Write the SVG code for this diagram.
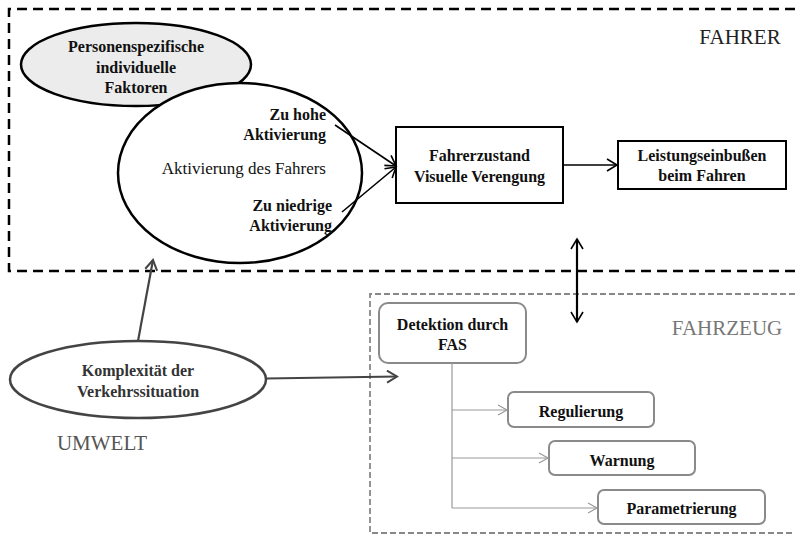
<svg xmlns="http://www.w3.org/2000/svg" width="795" height="536" viewBox="0 0 795 536" font-family="'Liberation Serif', 'DejaVu Serif', serif">
<style>
text{text-anchor:middle}
.b{font-weight:bold;font-size:16px;fill:#111}
.n{font-size:17px;fill:#111}
.lbl{font-size:21px}
.box{fill:#fff;stroke:#000;stroke-width:2}
.rbox{fill:#fff;stroke:#8a8a8a;stroke-width:2}
.thin{fill:none;stroke:#999;stroke-width:1.2}
</style>
<defs>
<marker id="ab" markerUnits="userSpaceOnUse" markerWidth="16" markerHeight="16" refX="12" refY="8" orient="auto-start-reverse" viewBox="0 0 16 16">
<path d="M2,2 L12,8 L2,14" fill="none" stroke="#000" stroke-width="1.6"/>
</marker>
<marker id="ad" markerUnits="userSpaceOnUse" markerWidth="16" markerHeight="16" refX="12" refY="8" orient="auto-start-reverse" viewBox="0 0 16 16">
<path d="M2,2 L12,8 L2,14" fill="none" stroke="#444" stroke-width="2"/>
</marker>
<marker id="ag" markerUnits="userSpaceOnUse" markerWidth="14" markerHeight="14" refX="11" refY="7" orient="auto" viewBox="0 0 14 14">
<path d="M2,2 L11,7 L2,12" fill="none" stroke="#999" stroke-width="1.2"/>
</marker>
</defs>

<g id="region-fahrer">
<path d="M795,9 H9 V271 H795" fill="none" stroke="#000" stroke-width="2.5" stroke-dasharray="10 6"/>
<text class="lbl" x="740" y="44" fill="#222">FAHRER</text>
</g>
<g id="region-fahrzeug">
<path d="M795,294 H370 V533 H795" fill="none" stroke="#888" stroke-width="1.8" stroke-dasharray="6 3"/>
<text class="lbl" x="727" y="335" fill="#777">FAHRZEUG</text>
</g>
<g id="region-umwelt">
<text class="lbl" x="102" y="450" fill="#555">UMWELT</text>
</g>

<g id="node-personen">
<ellipse cx="136" cy="64.5" rx="115" ry="41.5" fill="#ececec" stroke="#000" stroke-width="2.5"/>
<text class="b" x="136" y="52">Personenspezifische</text>
<text class="b" x="136" y="73">individuelle</text>
<text class="b" x="136" y="93">Faktoren</text>
</g>

<g id="node-aktivierung">
<ellipse cx="240" cy="173" rx="122" ry="90" fill="#fff" stroke="#000" stroke-width="2.5"/>
<text class="b" x="326" y="120" style="text-anchor:end">Zu hohe</text>
<text class="b" x="326" y="140" style="text-anchor:end">Aktivierung</text>
<text class="n" x="326" y="174" style="text-anchor:end">Aktivierung des Fahrers</text>
<text class="b" x="332" y="211" style="text-anchor:end">Zu niedrige</text>
<text class="b" x="332" y="231" style="text-anchor:end">Aktivierung</text>
</g>

<g id="node-fahrerzustand">
<rect class="box" x="396" y="127" width="167" height="76"/>
<text class="b" x="479.5" y="161">Fahrerzustand</text>
<text class="b" x="479.5" y="182">Visuelle Verengung</text>
</g>

<g id="node-leistung">
<rect class="box" x="618" y="141" width="168" height="48"/>
<text class="b" x="702" y="161">Leistungseinbußen</text>
<text class="b" x="702" y="181">beim Fahren</text>
</g>

<g id="node-komplexitaet">
<ellipse cx="138" cy="379.5" rx="128" ry="38.5" fill="#fff" stroke="#444" stroke-width="2.5"/>
<text class="b" x="138" y="376" style="fill:#333">Komplexität der</text>
<text class="b" x="138" y="397" style="fill:#333">Verkehrssituation</text>
</g>

<g id="node-detektion">
<rect class="rbox" x="379" y="303" width="147" height="60" rx="9"/>
<text class="b" x="452.5" y="330">Detektion durch</text>
<text class="b" x="452.5" y="350">FAS</text>
</g>

<g id="node-regulierung">
<rect class="rbox" x="508" y="392" width="146" height="35" rx="6"/>
<text class="b" x="581" y="417">Regulierung</text>
</g>

<g id="node-warnung">
<rect class="rbox" x="549" y="441" width="146" height="34" rx="6"/>
<text class="b" x="622" y="466">Warnung</text>
</g>

<g id="node-parametrierung">
<rect class="rbox" x="598" y="490" width="167" height="34" rx="6"/>
<text class="b" x="681.5" y="514">Parametrierung</text>
</g>

<g id="connectors">
<line x1="335" y1="125" x2="396" y2="166" stroke="#000" stroke-width="1.6" marker-end="url(#ab)"/>
<line x1="342" y1="212" x2="396" y2="167" stroke="#000" stroke-width="1.6" marker-end="url(#ab)"/>
<line x1="563" y1="165" x2="617" y2="165" stroke="#000" stroke-width="1.6" marker-end="url(#ab)"/>
<line x1="577" y1="239" x2="577" y2="322" stroke="#000" stroke-width="2.2" marker-start="url(#ab)" marker-end="url(#ab)"/>
<line x1="138" y1="341" x2="153" y2="260" stroke="#444" stroke-width="2.2" marker-end="url(#ad)"/>
<line x1="266" y1="378.5" x2="397" y2="376.5" stroke="#444" stroke-width="2.2" marker-end="url(#ad)"/>
<path class="thin" d="M452,363 V508"/>
<line class="thin" x1="452" y1="410" x2="507" y2="410" marker-end="url(#ag)"/>
<line class="thin" x1="452" y1="458" x2="548" y2="458" marker-end="url(#ag)"/>
<line class="thin" x1="452" y1="508" x2="597" y2="508" marker-end="url(#ag)"/>
</g>
</svg>
